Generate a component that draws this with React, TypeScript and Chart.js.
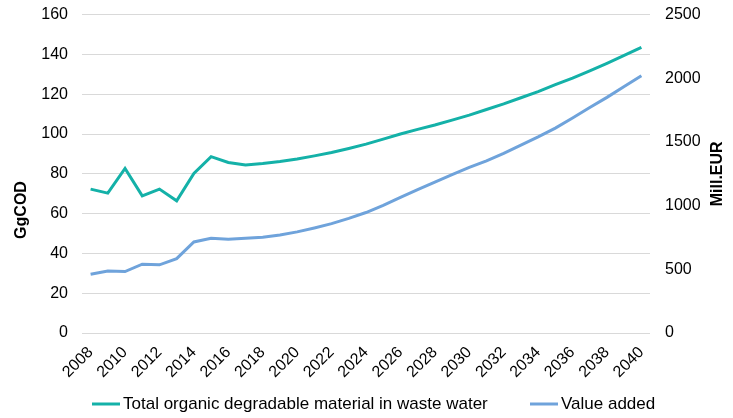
import React, { useEffect, useRef } from "react";
import { Chart, registerables } from "chart.js";

Chart.register(...registerables);

const years: string[] = [
  "2008","2009","2010","2011","2012","2013","2014","2015","2016","2017","2018",
  "2019","2020","2021","2022","2023","2024","2025","2026","2027","2028","2029",
  "2030","2031","2032","2033","2034","2035","2036","2037","2038","2039","2040",
];

const organicGgCOD: number[] = [
  72.3, 70.3, 82.7, 68.9, 72.3, 66.4, 80.2, 88.6, 85.7, 84.4, 85.2,
  86.2, 87.4, 89.0, 90.7, 92.7, 94.9, 97.4, 100.0, 102.3, 104.5, 107.0,
  109.5, 112.3, 115.1, 118.2, 121.3, 124.8, 128.1, 131.7, 135.5, 139.5, 143.5,
];

const valueAddedMEUR: number[] = [
  461, 487, 482, 540, 535, 584, 715, 744, 737, 744, 752,
  770, 794, 825, 859, 900, 946, 1003, 1064, 1125, 1185, 1243,
  1300, 1352, 1410, 1475, 1540, 1609, 1688, 1770, 1850, 1935, 2020,
];

const seriesNames: string[] = [
  "Total organic degradable material in waste water",
  "Value added",
];
const leftTitle = "GgCOD";
const rightTitle = "Mill.EUR";

const TEAL = "#14B1A8";
const BLUE = "#6FA3DB";
const FONT = "'Liberation Sans', Arial, sans-serif";
const TICK_SIZE = 16;
const SHIFT = 10;

const titlesPlugin = {
  id: "axisTitlesAndLegend",
  afterDraw(chart: any) {
    const { ctx, chartArea } = chart;
    ctx.save();
    ctx.fillStyle = "#000";
    ctx.font = `bold 16px ${FONT}`;
    ctx.textAlign = "center";
    ctx.textBaseline = "middle";
    ctx.translate(22, 210 + SHIFT);
    ctx.rotate(-Math.PI / 2);
    ctx.fillText(leftTitle, 0, 0);
    ctx.restore();

    ctx.save();
    ctx.fillStyle = "#000";
    ctx.font = `bold 16px ${FONT}`;
    ctx.textAlign = "center";
    ctx.textBaseline = "middle";
    ctx.translate(718, (chartArea.top + chartArea.bottom) / 2);
    ctx.rotate(-Math.PI / 2);
    ctx.fillText(rightTitle, 0, 0);
    ctx.restore();

    // legend
    const starts = [92, 530];
    const ly = 404 + SHIFT;
    ctx.save();
    ctx.font = `17px ${FONT}`;
    ctx.textBaseline = "middle";
    ctx.textAlign = "left";
    chart.data.datasets.forEach((ds: any, i: number) => {
      const x = starts[i];
      ctx.strokeStyle = ds.borderColor;
      ctx.lineWidth = 3;
      ctx.beginPath();
      ctx.moveTo(x, ly);
      ctx.lineTo(x + 28, ly);
      ctx.stroke();
      ctx.fillStyle = "#000";
      ctx.fillText(ds.label, x + 31, ly);
    });
    ctx.restore();
  },
};

export default function App() {
  const ref = useRef<HTMLCanvasElement | null>(null);
  useEffect(() => {
    if (!ref.current) return;
    const chart = new Chart(ref.current, {
      type: "line",
      data: {
        labels: years,
        datasets: [
          {
            label: seriesNames[0],
            data: organicGgCOD,
            borderColor: TEAL,
            backgroundColor: TEAL,
            borderWidth: 3,
            pointRadius: 0,
            tension: 0,
            yAxisID: "y",
          },
          {
            label: seriesNames[1],
            data: valueAddedMEUR,
            borderColor: BLUE,
            backgroundColor: BLUE,
            borderWidth: 3,
            pointRadius: 0,
            tension: 0,
            yAxisID: "y1",
          },
        ],
      },
      options: {
        responsive: false,
        animation: false,
        layout: { padding: { top: 0, left: 8, right: 0, bottom: 30 } },
        plugins: {
          tooltip: { enabled: false },
          legend: { display: false },
        },
        scales: {
          x: {
            offset: true,
            grid: { display: false },
            border: { display: false },
            ticks: {
              autoSkip: false,
              maxRotation: 45,
              minRotation: 45,
              color: "#000",
              padding: 2,
              font: { family: FONT, size: TICK_SIZE },
              callback: function (this: any, val: any, idx: number) {
                return idx % 2 === 0 ? this.getLabelForValue(val) : "";
              },
            },
            afterFit: (s: any) => { s.height = 55; },
          },
          y: {
            position: "left",
            min: 0,
            max: 160,
            ticks: {
              stepSize: 20,
              color: "#000",
              padding: 14,
              font: { family: FONT, size: TICK_SIZE },
            },
            grid: { color: "#D9D9D9", lineWidth: 1, drawTicks: false },
            border: { display: false },
            afterFit: (s: any) => { s.width = 74; },
          },
          y1: {
            position: "right",
            min: 0,
            max: 2500,
            ticks: {
              stepSize: 500,
              color: "#000",
              padding: 15,
              font: { family: FONT, size: TICK_SIZE },
              callback: (v: any) => String(v),
            },
            grid: { display: false, drawTicks: false },
            border: { display: false },
            afterFit: (s: any) => { s.width = 83; },
          },
        },
      },
      plugins: [titlesPlugin],
    });
    return () => chart.destroy();
  }, []);
  return (
    <div style={{ position: "fixed", left: 0, top: 0, width: 733, height: 418, background: "#fff", overflow: "hidden" }}>
      <canvas ref={ref} width={733} height={418 + SHIFT} style={{ position: "absolute", left: 0, top: -SHIFT }} />
    </div>
  );
}
